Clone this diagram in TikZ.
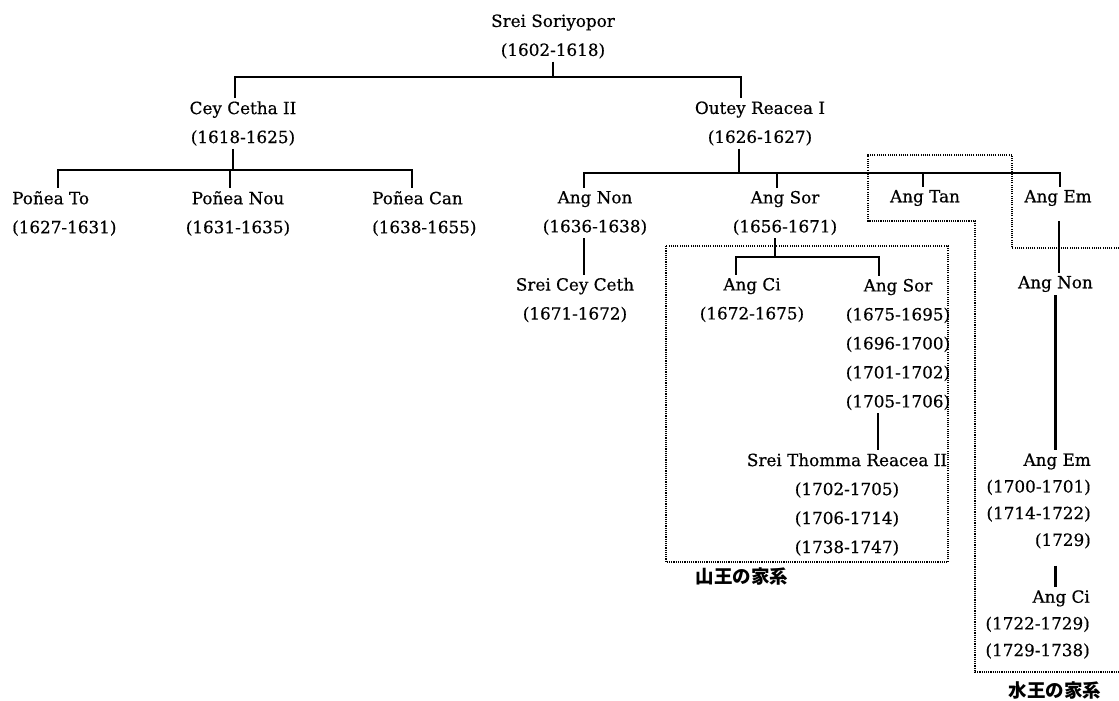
\documentclass[tikz,border=0pt]{standalone}
\usepackage{fontspec}
\setmainfont{DejaVu Serif}[FakeBold=0.5]
\newfontfamily\jpfont{Noto Sans CJK JP}
\usetikzlibrary{positioning}

\begin{document}
\begin{tikzpicture}[
  x=1pt,y=-1pt,
  king/.style={align=center,inner sep=3pt,font=\fontsize{16.8}{29}\selectfont},
  kingl/.style={king,align=left,anchor=west},
  kingr/.style={king,align=right,anchor=east,font=\fontsize{16.8}{26.7}\selectfont},
  tree/.style={line width=2.2pt},
  famline/.style={line width=1.1pt,dash pattern=on 1.1pt off 1.1pt},
  famlabel/.style={inner sep=0pt,font=\jpfont\bfseries\fontsize{18.5}{20}\selectfont}
]
\useasboundingbox (0,0) rectangle (1119,701);
% kings
\node[king] (srei) at (553,36.5) {Srei Soriyopor\\(1602-1618)};
\node[king] (cey) at (243,123.5) {Cey Cetha II\\(1618-1625)};
\node[king] (outey) at (760,123.5) {Outey Reacea I\\(1626-1627)};
\node[kingl] (potou) at (9,213.5) {Poñea To\\(1627-1631)};
\node[king] (ponou) at (238,213.5) {Poñea Nou\\(1631-1635)};
\node[kingl] (pocan) at (369,213.5) {Poñea Can\\(1638-1655)};
\node[king] (angnon) at (595,213) {Ang Non\\(1636-1638)};
\node[king] (angsor) at (785,213) {Ang Sor\\(1656-1671)};
\node[king] (angtan) at (925,198) {Ang Tan};
\node[king] (angem) at (1058,198) {Ang Em};
\node[king] (sreicey) at (575,300) {Srei Cey Ceth\\(1671-1672)};
\node[king] (angci) at (752,300) {Ang Ci\\(1672-1675)};
\node[king] (angsor2) at (898,344.5) {Ang Sor\\(1675-1695)\\(1696-1700)\\(1701-1702)\\(1705-1706)};
\node[king] (thomma) at (847,504.5) {Srei Thomma Reacea II\\(1702-1705)\\(1706-1714)\\(1738-1747)};
\node[kingr] (angnon2) at (1096,284) {Ang Non};
\node[kingr] (angem2) at (1094,501) {Ang Em\\(1700-1701)\\(1714-1722)\\(1729)};
\node[kingr] (angci2) at (1093,624.5) {Ang Ci\\(1722-1729)\\(1729-1738)};
% bar levels
\coordinate (b1) at (0,77);
\coordinate (b2) at (0,170);
\coordinate (b3) at (0,173);
\coordinate (b4) at (0,257);
% lines of descent
\draw[tree] (srei.south) -- (srei.south |- b1);
\draw[tree] ([xshift=-8pt]cey.north) |- ([xshift=-19pt]outey.north |- b1) -- ([xshift=-19pt]outey.north);
\draw[tree] ([xshift=-10pt]cey.south) -- ([xshift=-10pt]cey.south |- b2);
\draw[tree] ([xshift=-6pt]potou.north) |- ([xshift=-12pt]pocan.north |- b2) -- ([xshift=-12pt]pocan.north);
\draw[tree] ([xshift=-8pt]ponou.north) -- ([xshift=-8pt]ponou.north |- b2);
\draw[tree] ([xshift=-21pt]outey.south) -- ([xshift=-21pt]outey.south |- b3);
\draw[tree] ([xshift=-11pt]angnon.north) |- ([xshift=2pt]angem.north |- b3) -- ([xshift=2pt]angem.north);
\draw[tree] ([xshift=-8pt]angsor.north) -- ([xshift=-8pt]angsor.north |- b3);
\draw[tree] ([xshift=-2pt]angtan.north) -- ([xshift=-2pt]angtan.north |- b3);
\draw[tree] ([xshift=-11pt]angnon.south) -- ([xshift=9pt]sreicey.north);
\draw[tree] ([xshift=-10pt]angsor.south) -- ([xshift=-10pt]angsor.south |- b4);
\draw[tree] ([xshift=-16pt]angci.north) |- ([xshift=-19pt]angsor2.north |- b4) -- ([xshift=-19pt]angsor2.north);
\draw[tree] ([xshift=-20pt]angsor2.south) -- ([xshift=31pt]thomma.north);
\draw[tree,shorten <=12pt] ([xshift=1pt]angem.south) -- ([xshift=1pt]angem.south |- angnon2.north);
\draw[tree] (angnon2.south) -- (angnon2.south |- angem2.north);
\draw[tree,shorten <=14pt] (angnon2.south |- angem2.south) -- (angnon2.south |- angci2.north);
% family frames
\draw[famline] (666,246) rectangle (948,562);
\draw[famline] (1119,248) -- (1012,248) -- (1012,155) -- (868,155) -- (868,221)
  -- (975,221) -- (975,672) -- (1119,672);
\node[famlabel] (yamaou) at (742,577) {山王の家系};
\node[famlabel] (mizuou) at (1055,690) {水王の家系};
\end{tikzpicture}
\end{document}
